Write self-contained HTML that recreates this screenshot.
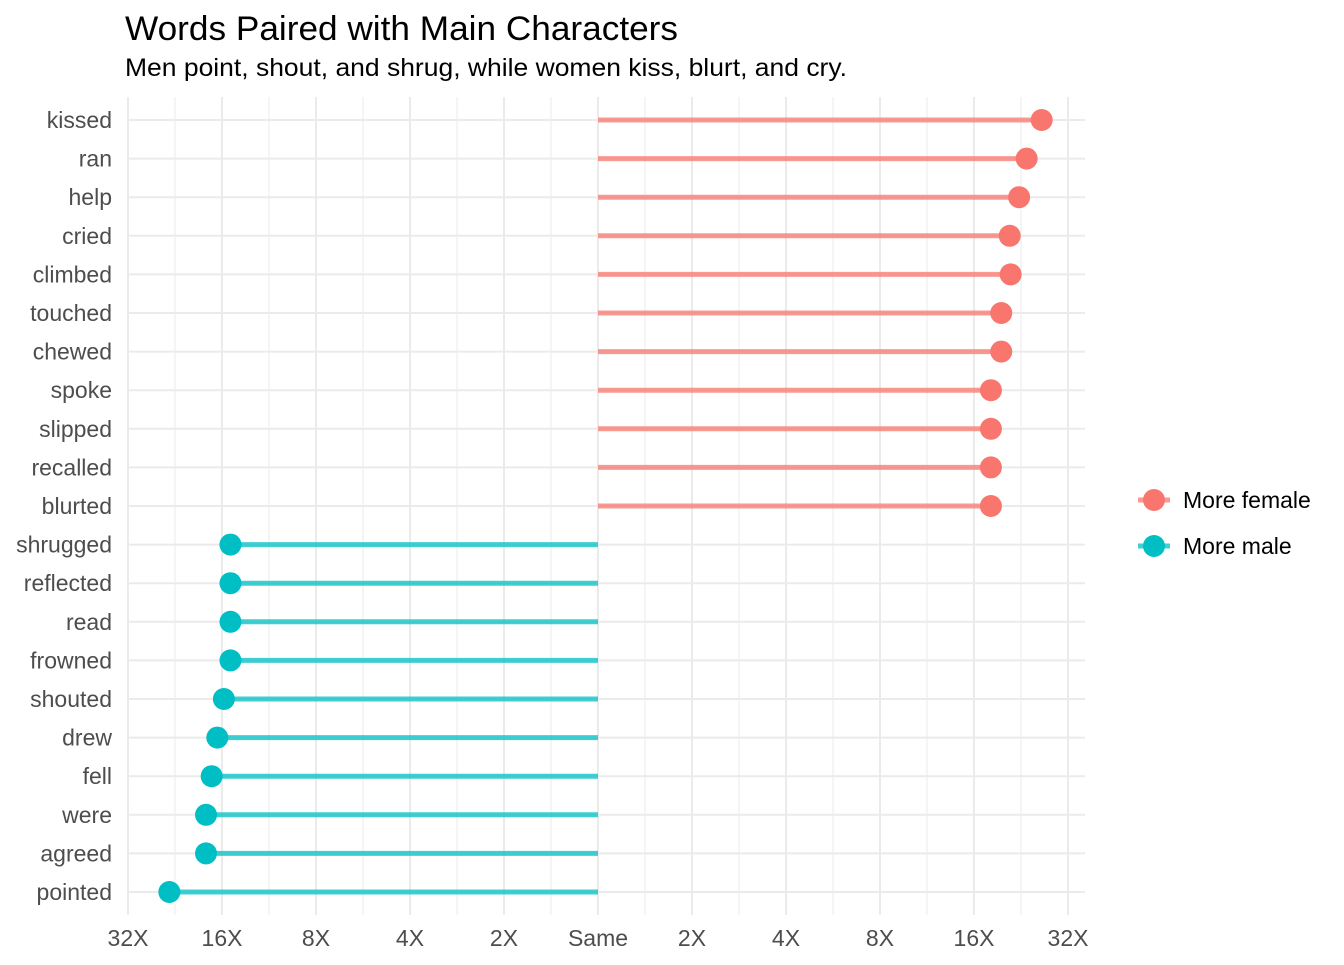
<!DOCTYPE html>
<html><head><meta charset="utf-8"><style>
body{margin:0;background:#fff;font-family:"Liberation Sans",Arial,sans-serif}
</style></head><body>
<svg id="chart" width="1344" height="960" xmlns="http://www.w3.org/2000/svg">
<text x="125" y="40" font-size="34" textLength="553" lengthAdjust="spacingAndGlyphs" fill="#000">Words Paired with Main Characters</text>
<text x="125" y="76" font-size="25" textLength="722" lengthAdjust="spacingAndGlyphs" fill="#000">Men point, shout, and shrug, while women kiss, blurt, and cry.</text>
<g id="grid"></g>
<g id="marks"></g>
<g id="axes"></g>
<g>
 <line x1="1138" y1="500" x2="1170" y2="500" stroke="#F8766D" stroke-opacity="0.75" stroke-width="5"/>
 <circle cx="1154" cy="500" r="11" fill="#F8766D"/>
 <text x="1183" y="508" font-size="23">More female</text>
 <line x1="1138" y1="546" x2="1170" y2="546" stroke="#00BFC4" stroke-opacity="0.75" stroke-width="5"/>
 <circle cx="1154" cy="546" r="11" fill="#00BFC4"/>
 <text x="1183" y="554" font-size="23">More male</text>
</g>
</svg>
<script>
const categories=["kissed","ran","help","cried","climbed","touched","chewed","spoke","slipped","recalled","blurted","shrugged","reflected","read","frowned","shouted","drew","fell","were","agreed","pointed"];
const log2Ratio=[4.72,4.56,4.48,4.38,4.39,4.29,4.29,4.18,4.18,4.18,4.18,-3.91,-3.91,-3.91,-3.91,-3.98,-4.05,-4.11,-4.17,-4.17,-4.56];
const tickValues=[-5,-4,-3,-2,-1,0,1,2,3,4,5];
const tickLabels=["32X","16X","8X","4X","2X","Same","2X","4X","8X","16X","32X"];
const NS="http://www.w3.org/2000/svg";
const shown=categories.filter((c,i)=>i!==1||true);
function x(v){return 598+94*v;}
const n=shown.length;
function y(i){return 120+i*(892-120)/(n-1);}
function mk(t,a,p){const e=document.createElementNS(NS,t);for(const k in a)e.setAttribute(k,a[k]);p.appendChild(e);return e;}
const grid=document.getElementById('grid'),marks=document.getElementById('marks'),axes=document.getElementById('axes');
for(let v=-5;v<=5;v+=0.5){
 const g=mk('line',{x1:x(v),x2:x(v),y1:97,y2:915,stroke:'#ebebeb','stroke-width':Number.isInteger(v)?2:1},grid);
 
 
}
for(let i=0;i<n;i++){
 const g=mk('line',{x1:128,x2:1085,y1:y(i),y2:y(i),stroke:'#ebebeb','stroke-width':2},grid);
 
 
 const t=mk('text',{x:112,y:y(i)+8,'text-anchor':'end','font-size':23,fill:'#4d4d4d'},axes);
 t.textContent=shown[i];
 
 
}
for(let i=0;i<n;i++){
 const v=log2Ratio[i];const c=v>=0?'#F8766D':'#00BFC4';
 const l=mk('line',{x1:x(0),x2:x(v),y1:y(i),y2:y(i),stroke:c,'stroke-opacity':0.75,'stroke-width':5},marks);
 
 
 const p=mk('circle',{cx:x(v),cy:y(i),r:11,fill:c},marks);
 
 
}
tickValues.forEach((v,i)=>{
 const t=mk('text',{x:x(v),y:946,'text-anchor':'middle','font-size':23,fill:'#4d4d4d'},axes);
 t.textContent=tickLabels[i];
 
 
});
</script>
</body></html>
